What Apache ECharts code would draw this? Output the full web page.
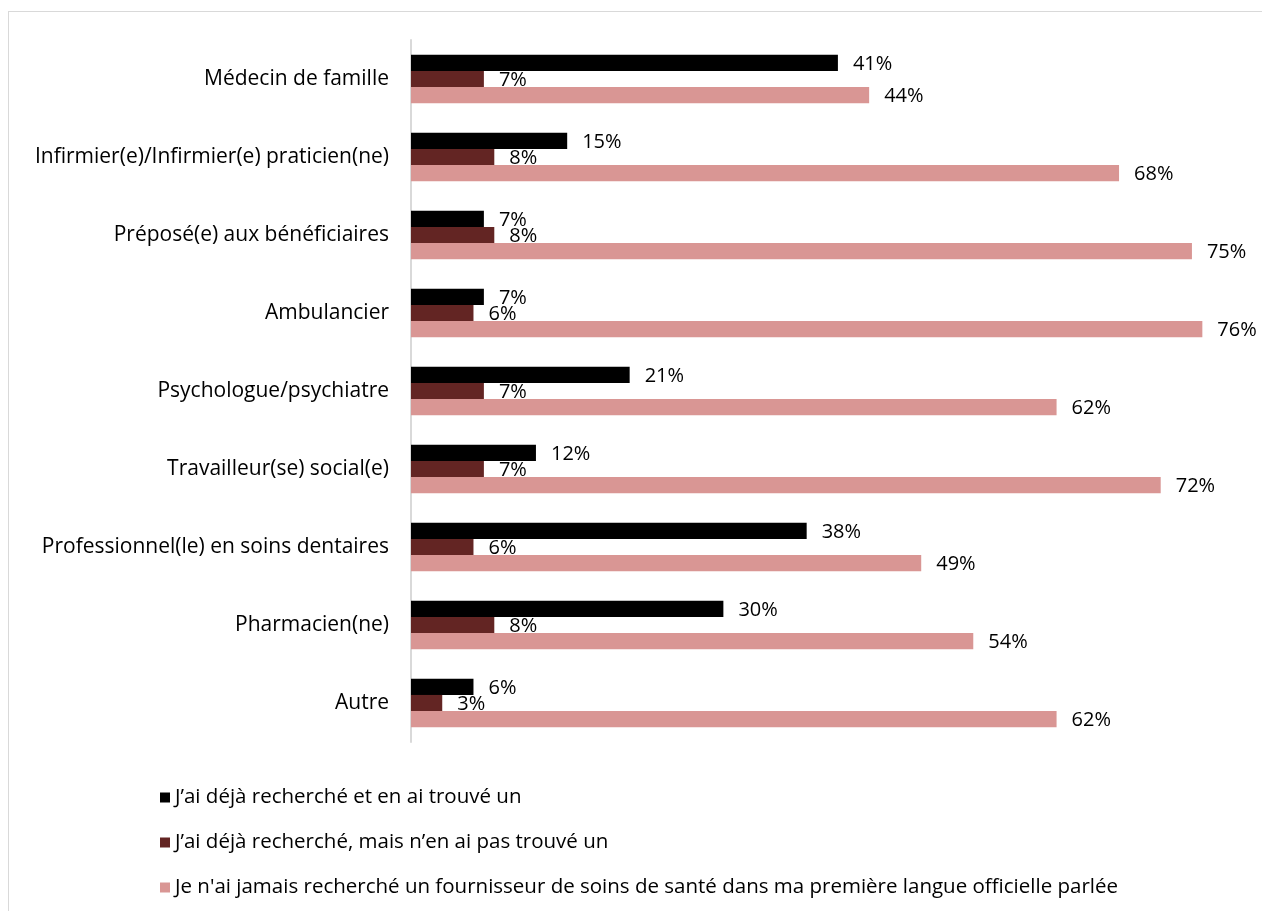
<!DOCTYPE html>
<html>
<head>
<meta charset="utf-8">
<script src="https://cdn.jsdelivr.net/npm/echarts@6/dist/echarts.min.js"></script>
<style>
  html, body { margin: 0; padding: 0; background: #fff; }
  #frame { position: absolute; left: 8px; top: 11px; width: 1270px; height: 920px; border: 1px solid #d9d9d9; }
  #main { position: absolute; left: 0; top: 0; width: 1262px; height: 911px; }
</style>
</head>
<body>
<div id="frame"></div>
<div id="main"></div>
<script>
const categories = [
  "Médecin de famille",
  "Infirmier(e)/Infirmier(e) praticien(ne)",
  "Préposé(e) aux bénéficiaires",
  "Ambulancier",
  "Psychologue/psychiatre",
  "Travailleur(se) social(e)",
  "Professionnel(le) en soins dentaires",
  "Pharmacien(ne)",
  "Autre"
];
const seriesNames = [
  "J’ai déjà recherché et en ai trouvé un",
  "J’ai déjà recherché, mais n’en ai pas trouvé un",
  "Je n'ai jamais recherché un fournisseur de soins de santé dans ma première langue officielle parlée"
];
const foundOne = [41, 15, 7, 7, 21, 12, 38, 30, 6];
const notFound = [7, 8, 8, 6, 7, 7, 6, 8, 3];
const neverSearched = [44, 68, 75, 76, 62, 72, 49, 54, 62];

const colors = ["#000000", "#632523", "#d99694"];
const font = "'Open Sans', sans-serif";

const myChart = echarts.init(document.getElementById("main"));

function bar(name, data, color) {
  return {
    name: name,
    type: "bar",
    data: data,
    barGap: "0%",
    barCategoryGap: "38%",
    itemStyle: { color: color },
    label: {
      show: true,
      position: "right",
      distance: 15,
      offset: [0, 1],
      formatter: "{c}%",
      color: "#000",
      fontFamily: font,
      fontSize: 20
    }
  };
}

myChart.setOption({
  animation: false,
  textStyle: { fontFamily: font },
  grid: { left: 411, right: 18, top: 40, bottom: 169, containLabel: false },
  legend: {
    orient: "vertical",
    left: 155,
    top: 782,
    itemWidth: 10,
    itemHeight: 10,
    itemGap: 24,
    icon: "rect",
    textStyle: { color: "#000", fontSize: 20.5, fontFamily: font },
    data: seriesNames
  },
  xAxis: {
    type: "value",
    min: 0,
    max: 80,
    show: false,
    splitLine: { show: false }
  },
  yAxis: {
    type: "category",
    inverse: true,
    data: categories,
    axisTick: { show: false },
    axisLine: { show: true, lineStyle: { color: "#d9d9d9", width: 2 } },
    axisLabel: { color: "#000", fontSize: 21, fontFamily: font, margin: 22 }
  },
  series: [
    bar(seriesNames[0], foundOne, colors[0]),
    bar(seriesNames[1], notFound, colors[1]),
    bar(seriesNames[2], neverSearched, colors[2])
  ]
});

window.addEventListener("resize", () => myChart.resize());
</script>
</body>
</html>
